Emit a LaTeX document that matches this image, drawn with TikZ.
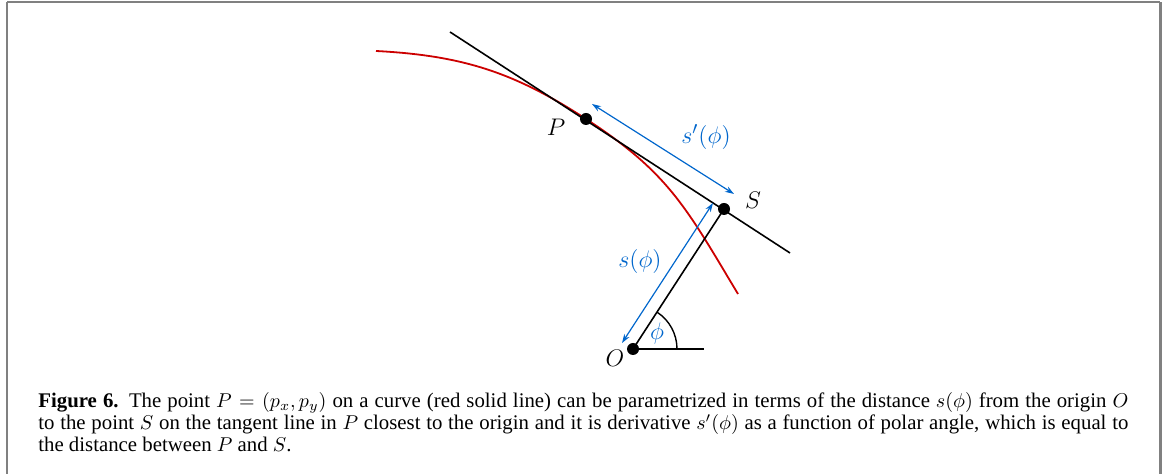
\documentclass[tikz,border=0pt]{standalone}
\usepackage[no-math]{fontspec}
\setmainfont{Liberation Serif}
\usetikzlibrary{arrows.meta}

\definecolor{curvered}{RGB}{204,0,0}
\definecolor{distblue}{RGB}{0,102,204}
\definecolor{framegray}{RGB}{128,128,128}

\tikzset{
	dot/.style={fill=black},
	ptlabel/.style={font=\fontsize{12.5}{14}\selectfont, inner sep=0pt},
	distarrow/.style={distblue, line width=0.6pt, {Stealth[length=4.5pt,width=3pt]}-{Stealth[length=4.5pt,width=3pt]}}
}

\begin{document}
\begin{tikzpicture}[x=0.5pt,y=0.5pt]
			\useasboundingbox (0,0) rectangle (1165,474);
			
			% Frame of the figure box
			\draw[framegray, line width=0.7pt] (7,472) -- (1160,472);
			\draw[framegray, line width=1pt] (7,0) -- (7,472);
			\draw[framegray, line width=1.5pt] (1160,0) -- (1160,472);
			
			% Coordinates of the points
			\coordinate (O) at (633,125);
			\coordinate (S) at (724,265);
			\coordinate (P) at (586,355);
			\coordinate (T1) at (450,442);
			\coordinate (T2) at (790,221);
			\coordinate (H) at (704,125);
			\coordinate (C0) at (376,423);
			\coordinate (C1) at (738,180);
			
			% The curve in red, tangent to the line in P
			\draw[curvered, line width=0.9pt] (C0) to[out=-3, in=147] (P) to[out=-33, in=121, looseness=1.1] (C1);
			
			% Tangent line, segment OS and the horizontal axis
			\draw[line width=0.8pt] (T1) -- (T2);
			\draw[line width=0.8pt] (O) -- (S);
			\draw[line width=0.8pt] (O) -- (H);
			
			% Angle phi
			\draw[line width=0.7pt] ([shift={(22pt,0pt)}]O) arc (0:56.8:22pt);
			\node[ptlabel, distblue] (phi) at (657,140) {$\phi$};
			
			% Distances in blue
			\coordinate (sa) at (713,271);
			\coordinate (sb) at (622,131);
			\coordinate (da) at (592,370);
			\coordinate (db) at (734,280);
			\draw[distarrow] (sb) -- (sa);
			\draw[distarrow] (da) -- (db);
			\node[ptlabel, distblue] (slabel) at (640,212) {$s(\phi)$};
			\node[ptlabel, distblue] (dslabel) at (706,337) {$s'(\phi)$};
			
			% Draw the points and their labels
			\fill[dot] (O) circle (3pt);
			\fill[dot] (S) circle (3pt);
			\fill[dot] (P) circle (3pt);
			\node[ptlabel] (Olabel) at (615,116) {$O$};
			\node[ptlabel] (Slabel) at (753,274) {$S$};
			\node[ptlabel] (Plabel) at (556,347) {$P$};
			
			% Caption
			\node[anchor=north west, inner sep=0pt, text width=545pt, align=justify,
				font=\fontsize{10.4}{11}\selectfont] (caption) at (38,82)
				{\textbf{Figure 6.}\enspace The point $P=(p_x,p_y)$ on a curve (red solid line) can be parametrized in terms of the distance $s(\phi)$ from the origin $O$\linebreak to the point $S$ on the tangent line in $P$ closest to the origin and it is derivative $s'(\phi)$ as a function of polar angle, which is equal to\linebreak the distance between $P$ and $S$.};
		\end{tikzpicture}
\end{document}
